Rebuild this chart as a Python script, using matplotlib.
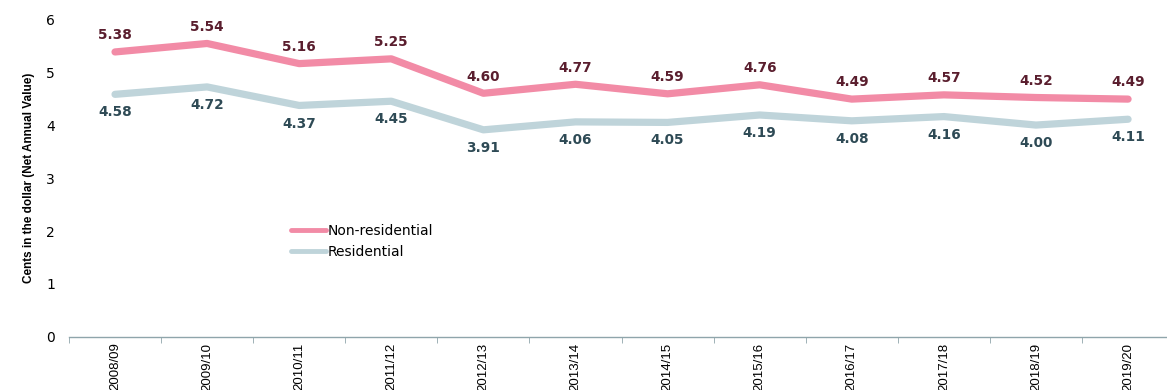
import numpy as np
import matplotlib.pyplot as plt

plt.rcParams['font.family'] = ['Liberation Sans', 'DejaVu Sans']

years = ['2008/09', '2009/10', '2010/11', '2011/12', '2012/13', '2013/14',
         '2014/15', '2015/16', '2016/17', '2017/18', '2018/19', '2019/20']
non_residential = [5.38, 5.54, 5.16, 5.25, 4.60, 4.77, 4.59, 4.76, 4.49, 4.57, 4.52, 4.49]
residential = [4.58, 4.72, 4.37, 4.45, 3.91, 4.06, 4.05, 4.19, 4.08, 4.16, 4.00, 4.11]

pink = '#F28BA6'
blue = '#BFD4DA'

fig = plt.figure(figsize=(11.67, 3.9), dpi=100)
ax = fig.add_axes([0.0591, 0.136, 0.947, 0.815])

x = np.arange(len(years))
ax.plot(x, non_residential, color=pink, lw=5.2, solid_capstyle='round',
        solid_joinstyle='round', label='Non-residential')
ax.plot(x, residential, color=blue, lw=5.2, solid_capstyle='round',
        solid_joinstyle='round', label='Residential')

# value labels: wide bold digits as in the original
for xi, v in zip(x, non_residential):
    ax.annotate(f'{v:.2f}', (xi, v), xytext=(0, 12), textcoords='offset points',
                ha='center', va='center', fontsize=9.8, fontweight='bold',
                family='DejaVu Sans', color='#5A1E2E')
for xi, v in zip(x, residential):
    ax.annotate(f'{v:.2f}', (xi, v), xytext=(0, -13), textcoords='offset points',
                ha='center', va='center', fontsize=9.8, fontweight='bold',
                family='DejaVu Sans', color='#2E4A55')

ax.set_xlim(-0.5, len(years) - 0.5)
ax.set_ylim(0, 6)
ax.set_xticks(x)
ax.set_xticklabels(years, rotation=90, fontsize=9.5)
ax.set_xticks(np.arange(-0.5, len(years), 1), minor=True)
ax.tick_params(axis='x', which='major', length=0, pad=4)
ax.tick_params(axis='x', which='minor', length=4, color='#8FA5AB', direction='out')
ax.set_yticks(range(7))
ax.set_yticklabels([str(i) for i in range(7)], family='DejaVu Sans', fontsize=10)
ax.tick_params(axis='y', length=0, pad=10)

for s in ['top', 'right', 'left']:
    ax.spines[s].set_visible(False)
ax.spines['bottom'].set_color('#8FA5AB')
ax.spines['bottom'].set_linewidth(1)

ax.set_ylabel('Cents in the dollar (Net Annual Value)', fontsize=8.5, fontweight='bold',
              labelpad=8)

leg = ax.legend(loc='upper left', bbox_to_anchor=(0.19, 0.395), frameon=False,
                prop={'family': 'DejaVu Sans', 'size': 10},
                handlelength=2.5, handletextpad=0.1, labelspacing=0.5)
for line in leg.get_lines():
    line.set_linewidth(3.5)

fig.savefig('out.png', dpi=100)
